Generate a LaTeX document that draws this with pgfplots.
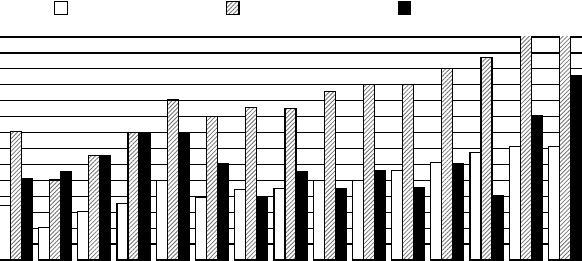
\documentclass[border=0pt]{standalone}
\usepackage{pgfplots}
\pgfplotsset{compat=1.18}
\usetikzlibrary{patterns.meta}
\begin{document}
\begin{tikzpicture}[x=1bp,y=1bp]
\useasboundingbox (0,0) rectangle (582,260);
\begin{axis}[
  at={(0,0)}, anchor=south west, scale only axis,
  width=582bp, height=223bp,
  xmin=0.597, xmax=15.433, ymin=0, ymax=14,
  ybar=0pt, bar width=11bp,
  xtick=\empty, ytick={1,...,14}, yticklabels={},
  major tick length=0pt,
  ymajorgrids, major grid style={black, line width=1.2bp},
  axis line style={draw=none},
  legend columns=3,
  legend style={at={(54/582,259.5/223)}, anchor=north west, draw=none, fill=none,
    inner sep=0pt, nodes={inner sep=0pt}, /tikz/column sep=0pt},
  legend image code/.code={\draw[#1] (0.5bp,-6.5bp) rectangle (13bp,6.5bp);},
]
\addplot[fill=white, draw=black, line width=1.2bp] coordinates {
(1,3.42) (2,2.02) (3,3.02) (4,3.53) (5,5.0) (6,3.94) (7,4.43) (8,4.49)
(9,5.0) (10,5.0) (11,5.61) (12,6.13) (13,6.74) (14,7.14) (15,7.14)};
\addlegendentry{\hspace*{158bp}}
\addplot[fill=white, draw=black, line width=1.2bp,
  postaction={pattern={Lines[angle=45,distance=3bp,line width=0.8bp]}, pattern color=black!55}] coordinates {
(1,8.08) (2,5.02) (3,6.55) (4,8.0) (5,10.04) (6,9.01) (7,9.58) (8,9.51)
(9,10.6) (10,11.03) (11,11.03) (12,12.04) (13,12.73) (14,15) (15,15)};
\addlegendentry{\hspace*{158bp}}
\addplot[fill=black, draw=black, line width=1.2bp] coordinates {
(1,5.14) (2,5.56) (3,6.55) (4,8.0) (5,8.0) (6,6.07) (7,3.94) (8,5.56)
(9,4.49) (10,5.63) (11,4.56) (12,6.07) (13,4.05) (14,9.09) (15,11.55)};
\addlegendentry{\hspace*{158bp}}
\end{axis}
\end{tikzpicture}
\end{document}
